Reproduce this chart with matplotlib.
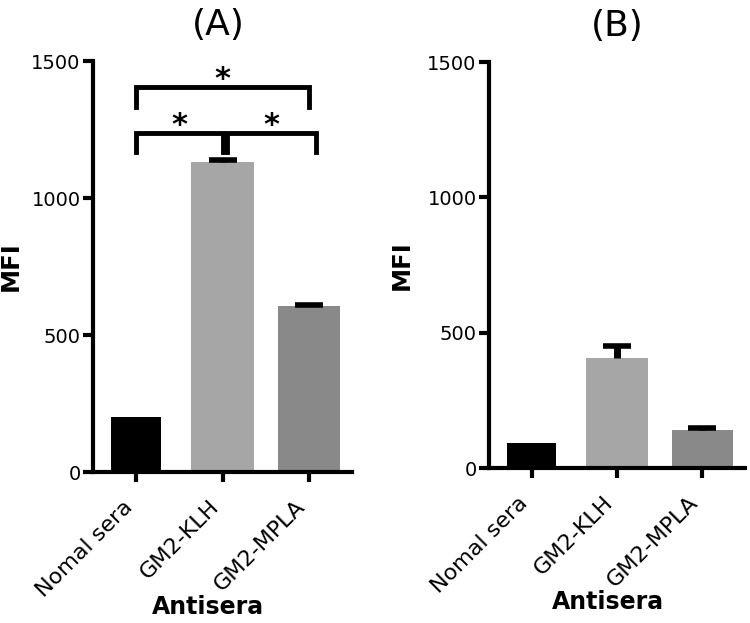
import matplotlib
matplotlib.use("Agg")
from matplotlib import pyplot as plt

groups = ["Nomal sera", "GM2-KLH", "GM2-MPLA"]
colors = ["#000000", "#a6a6a6", "#898989"]
widths = [0.58, 0.73, 0.72]

mfi_a = [200, 1132, 605]
err_a = [0, 5, 4]

mfi_b = [93, 407, 141]
err_b = [0, 45, 5]

# significance brackets for panel A: (left x, right x, bar height, leg bottom, star)
brackets = [(0.0, 2.0, 1405, 1332, "*"),
            (0.0, 1.0, 1237, 1168, "*"),
            (1.05, 2.08, 1237, 1168, "*")]

plt.rcParams["font.family"] = "DejaVu Sans"

fig = plt.figure(figsize=(7.5, 6.23), dpi=100)
ax_a = fig.add_axes([93/750, 1 - 472/623, 259/750, 411/623])
ax_b = fig.add_axes([489/750, 1 - 468/623, 256/750, 406/623])


def draw_panel(ax, vals, errs, title, title_x):
    x = list(range(len(groups)))
    ax.bar(x, vals, width=widths, color=colors, zorder=2)

    # only the upper half of the error bar, like Prism
    idx = [i for i in x if errs[i] > 0]
    eb = ax.errorbar([x[i] for i in idx], [vals[i] for i in idx],
                     yerr=[[0] * len(idx), [errs[i] for i in idx]], fmt="none",
                     ecolor="black", elinewidth=5, capsize=10, capthick=4, zorder=3)
    eb[1][0].set_visible(False)

    ax.set_xlim(-0.5, 2.5)
    ax.set_ylim(0, 1500)
    ax.set_yticks([0, 500, 1000, 1500])
    ax.set_xticks(x)
    ax.set_xticklabels(groups, rotation=45, ha="right", va="bottom",
                       rotation_mode="anchor", fontsize=16)
    ax.tick_params(axis="y", labelsize=14, length=7, width=3, pad=2)
    ax.tick_params(axis="x", length=7, width=3, pad=21)
    for s in ["top", "right"]:
        ax.spines[s].set_visible(False)
    for s in ["left", "bottom"]:
        ax.spines[s].set_linewidth(3)
    ax.set_ylabel("MFI", fontsize=17.5, fontweight="bold")
    ax.set_xlabel("Antisera", fontsize=17, fontweight="bold")
    ax.set_title(title, fontsize=26, x=title_x, pad=19)


draw_panel(ax_a, mfi_a, err_a, "(A)", 0.483)
draw_panel(ax_b, mfi_b, err_b, "(B)", 0.50)

ax_a.yaxis.set_label_coords(-0.27, 0.5)
ax_b.yaxis.set_label_coords(-0.295, 0.5)
ax_a.xaxis.set_label_coords(0.444, -0.30)
ax_b.xaxis.set_label_coords(0.463, -0.30)

for x0, x1, top, bottom, star in brackets:
    ax_a.plot([x0, x0, x1, x1], [bottom, top, top, bottom], color="black",
              lw=3.5, clip_on=False, solid_joinstyle="miter")
    ax_a.text((x0 + x1) / 2, top - 24, star, ha="center", va="bottom",
              fontsize=22, fontweight="bold")

plt.savefig("out.png", dpi=100)
